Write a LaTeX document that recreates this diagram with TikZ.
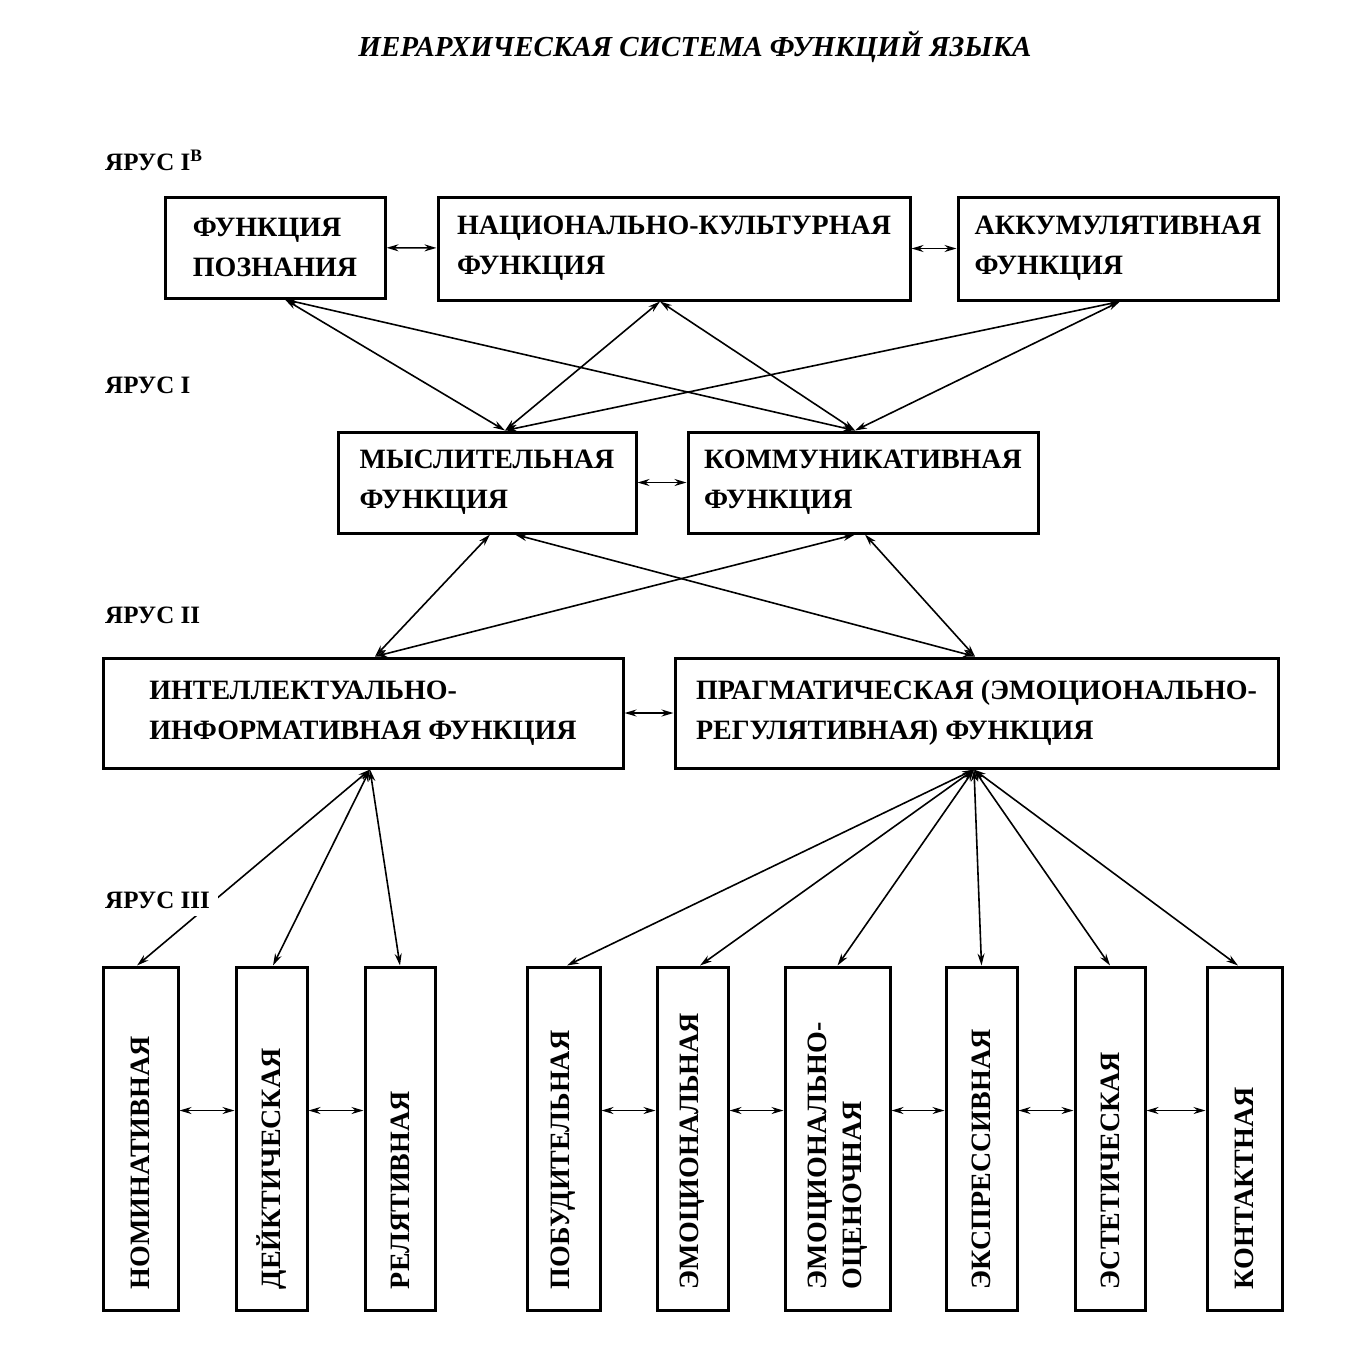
\documentclass[tikz,border=0pt]{standalone}
\usepackage{fontspec}
\setmainfont{Liberation Serif}
\usetikzlibrary{arrows.meta}

\newcommand{\boxfont}{\fontsize{28}{40}\selectfont\bfseries}
\newcommand{\tierfont}{\fontsize{25}{30}\selectfont\bfseries}

\tikzset{
  fbox/.style={draw, line width=3pt, align=left, inner sep=0pt, font=\boxfont},
  vbox/.style={draw, line width=3pt, rotate=90, minimum width=343pt, minimum height=#1,
    text width=301pt, inner xsep=21pt, inner ysep=0pt, align=left, font=\boxfont},
  link/.style={{Stealth[length=12pt,width=7pt]}-{Stealth[length=12pt,width=7pt]}, line width=1.6pt},
  tier/.style={anchor=west, font=\tierfont, fill=white, inner sep=8pt},
}

\begin{document}
\begin{tikzpicture}[x=1pt, y=-1pt]
\useasboundingbox (0,0) rectangle (1372,1350);

\node[font=\fontsize{29}{32}\selectfont\bfseries\itshape] (title) at (695,47) {ИЕРАРХИЧЕСКАЯ СИСТЕМА ФУНКЦИЙ ЯЗЫКА};

% ярус I-в
\node[fbox, minimum width=220pt, minimum height=101pt] (poz) at (275,247.5) {ФУНКЦИЯ\\ПОЗНАНИЯ};
\node[fbox, minimum width=472pt, minimum height=103pt] (nac) at (674,248.5) {НАЦИОНАЛЬНО-КУЛЬТУРНАЯ\\ФУНКЦИЯ};
\node[fbox, minimum width=320pt, minimum height=103pt] (akk) at (1118,248.5) {АККУМУЛЯТИВНАЯ\\ФУНКЦИЯ};

% ярус I
\node[fbox, minimum width=298pt, minimum height=101pt] (mysl) at (487,482.5) {МЫСЛИТЕЛЬНАЯ\\ФУНКЦИЯ};
\node[fbox, minimum width=350pt, minimum height=101pt] (komm) at (863,482.5) {КОММУНИКАТИВНАЯ\\ФУНКЦИЯ};

% ярус II
\node[fbox, minimum width=520pt, minimum height=110pt] (intel) at (363,713) {ИНТЕЛЛЕКТУАЛЬНО-\\ИНФОРМАТИВНАЯ ФУНКЦИЯ\hspace{12pt}};
\node[fbox, minimum width=603pt, minimum height=110pt] (pragm) at (976.5,713) {ПРАГМАТИЧЕСКАЯ (ЭМОЦИОНАЛЬНО-\\РЕГУЛЯТИВНАЯ) ФУНКЦИЯ};

% ярус III
\node[vbox=75pt] (nom) at (140.5,1138.5) {НОМИНАТИВНАЯ};
\node[vbox=71pt] (deik) at (271.5,1138.5) {ДЕЙКТИЧЕСКАЯ};
\node[vbox=70pt] (rel) at (400,1138.5) {РЕЛЯТИВНАЯ};
\node[vbox=73pt] (pob) at (563.5,1138.5) {ПОБУДИТЕЛЬНАЯ};
\node[vbox=71pt] (emo) at (692.5,1138.5) {ЭМОЦИОНАЛЬНАЯ};
\node[vbox=105pt, font=\fontsize{28}{35}\selectfont\bfseries] (emoc) at (837.5,1138.5) {ЭМОЦИОНАЛЬНО-\\ОЦЕНОЧНАЯ};
\node[vbox=71pt] (eks) at (981.5,1138.5) {ЭКСПРЕССИВНАЯ};
\node[vbox=70pt] (est) at (1110,1138.5) {ЭСТЕТИЧЕСКАЯ};
\node[vbox=75pt] (kont) at (1244.5,1138.5) {КОНТАКТНАЯ};

% horizontal links
\draw[link] (poz) -- (nac);
\draw[link] (nac) -- (akk);
\draw[link] (mysl) -- (komm);
\draw[link] (intel) -- (pragm);
\foreach \a/\b in {nom/deik, deik/rel, pob/emo, emo/emoc, emoc/eks, eks/est, est/kont}
  \draw[link] ([yshift=28pt]\a.south) -- ([yshift=28pt]\b.north);

% I-в -- I
\foreach \a/\s in {poz/10, nac/-14, akk/2} {
  \draw[link] ([xshift=\s pt]\a.south) -- ([xshift=18pt]mysl.north);
  \draw[link] ([xshift=\s pt]\a.south) -- ([xshift=-8pt]komm.north);
}

% I -- II
\draw[link] ([xshift=3pt]mysl.south) -- ([xshift=12pt]intel.north);
\draw[link] ([xshift=28pt]mysl.south) -- ([xshift=-1.5pt]pragm.north);
\draw[link] ([xshift=-8pt]komm.south) -- ([xshift=12pt]intel.north);
\draw[link] ([xshift=2pt]komm.south) -- ([xshift=-1.5pt]pragm.north);

% II -- III
\foreach \b/\s in {nom/-3.5, deik/1.5, rel/0}
  \draw[link] ([xshift=7pt]intel.south) -- ([xshift=\s pt]\b.east);
\foreach \b/\s in {pob/3.5, emo/7.5, emoc/0, eks/0, est/0, kont/-6.5}
  \draw[link] ([xshift=-2.5pt]pragm.south) -- ([xshift=\s pt]\b.east);

% tiers
\node[tier] (t0) at (97,160) {ЯРУС I\textsuperscript{В}};
\node[tier] (t1) at (97,385) {ЯРУС I};
\node[tier] (t2) at (97,615) {ЯРУС II};
\node[tier] (t3) at (97,900) {ЯРУС III};
\end{tikzpicture}
\end{document}
